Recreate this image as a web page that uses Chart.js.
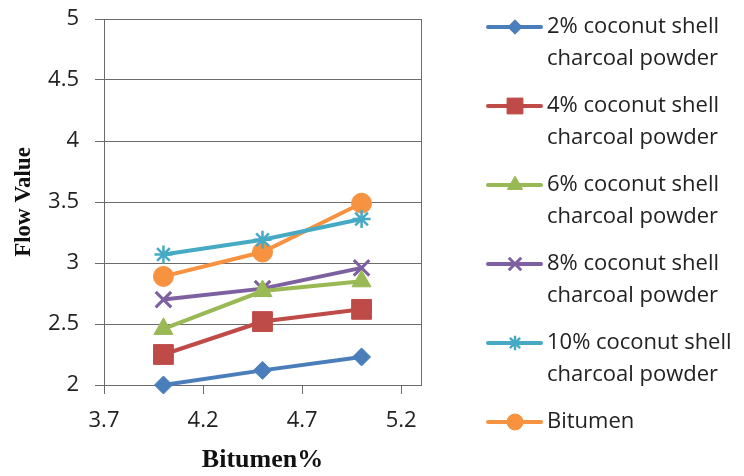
<!DOCTYPE html>
<html>
<head>
<meta charset="utf-8">
<style>
  html, body { margin: 0; padding: 0; background: #fff; }
  #wrap { width: 744px; height: 476px; }
</style>
<script src="https://cdn.jsdelivr.net/npm/chart.js"></script>
</head>
<body>
<div id="wrap"><canvas id="flowChart" width="744" height="476"></canvas></div>
<script>
// datos
const bitumenPct = [4, 4.5, 5];
const xTickValues = [3.7, 4.2, 4.7, 5.2];
const yTickValues = [2, 2.5, 3, 3.5, 4, 4.5, 5];

const shell2 = [2.0, 2.12, 2.23];
const shell4 = [2.25, 2.52, 2.62];
const shell6 = [2.46, 2.77, 2.85];
const shell8 = [2.70, 2.79, 2.96];
const shell10 = [3.07, 3.19, 3.36];
const bitumenOnly = [2.89, 3.09, 3.49];

const seriesNames = [
    ['2% coconut shell', 'charcoal powder'],
    ['4% coconut shell', 'charcoal powder'],
    ['6% coconut shell', 'charcoal powder'],
    ['8% coconut shell', 'charcoal powder'],
    ['10% coconut shell', 'charcoal powder'],
    ['Bitumen']
];

function toPoints(values) {
    return values.map((v, i) => ({ x: bitumenPct[i], y: v }));
}

function makeDataset(name, values, color, style, radius, bw) {
    return {
        label: name.join(' '),
        legendLines: name,
        data: toPoints(values),
        borderColor: color,
        backgroundColor: color,
        pointBackgroundColor: color,
        pointBorderColor: color,
        pointStyle: style,
        pointRadius: radius,
        pointBorderWidth: bw,
        borderWidth: 4,
        tension: 0,
        clip: false
    };
}

const datasets = [
    makeDataset(seriesNames[0], shell2, '#4A7EBB', 'rectRot', 9, 1),
    makeDataset(seriesNames[1], shell4, '#BE4B48', 'rect', 14, 1),
    makeDataset(seriesNames[2], shell6, '#98B954', 'triangle', 11, 1),
    makeDataset(seriesNames[3], shell8, '#7D60A0', 'crossRot', 11, 3),
    makeDataset(seriesNames[4], shell10, '#46AAC5', 'star', 9, 2.5),
    makeDataset(seriesNames[5], bitumenOnly, '#F69240', 'circle', 10, 1)
];

// leyenda dibujada a mano a la derecha (linea + marcador + texto en dos lineas)
const sideLegend = {
    id: 'sideLegend',
    afterDraw(chart) {
        const ctx = chart.ctx;
        ctx.save();
        chart.data.datasets.forEach((ds, i) => {
            const y = 27 + i * 79;
            ctx.strokeStyle = ds.borderColor;
            ctx.fillStyle = ds.borderColor;
            ctx.lineWidth = 4;
            ctx.lineCap = 'round';
            ctx.beginPath();
            ctx.moveTo(488, y);
            ctx.lineTo(541, y);
            ctx.stroke();
            ctx.lineWidth = ds.pointBorderWidth;
            ctx.lineCap = 'butt';
            Chart.helpers.drawPoint(ctx, {
                pointStyle: ds.pointStyle,
                radius: ds.pointRadius * 0.8,
                borderWidth: ds.pointBorderWidth,
                rotation: 0
            }, 515, y);
            ctx.fillStyle = '#222';
            ctx.font = '22px "Open Sans"';
            ctx.textBaseline = 'middle';
            ctx.textAlign = 'left';
            ds.legendLines.forEach((txt, j) => {
                ctx.fillText(txt, 547, y + j * 32);
            });
        });
        ctx.restore();
    }
};

const ctx = document.getElementById('flowChart').getContext('2d');
const chart = new Chart(ctx, {
    type: 'line',
    data: { datasets: datasets },
    plugins: [sideLegend],
    options: {
        responsive: false,
        animation: false,
        layout: { padding: { left: 10, right: 323, top: 19, bottom: 0 } },
        plugins: {
            legend: { display: false },
            tooltip: { enabled: false }
        },
        scales: {
            x: {
                type: 'linear',
                min: 3.7,
                max: 5.3,
                afterBuildTicks: (scale) => { scale.ticks = xTickValues.map(v => ({ value: v })); },
                afterFit: (scale) => { scale.height = 91; },
                ticks: {
                    color: '#222',
                    font: { family: 'Open Sans', size: 22 },
                    padding: 14,
                    maxRotation: 0,
                    autoSkip: false,
                    callback: (v) => String(Math.round(v * 10) / 10)
                },
                grid: { drawOnChartArea: false, drawTicks: true, tickLength: 9, color: '#6b6b6b' },
                border: { display: true, color: '#6b6b6b', width: 1 },
                title: {
                    display: true,
                    text: 'Bitumen%',
                    color: '#111',
                    font: { family: 'Liberation Serif', size: 26, weight: 'bold' },
                    padding: { top: 0, bottom: 0 }
                }
            },
            y: {
                min: 2,
                max: 5,
                afterBuildTicks: (scale) => { scale.ticks = yTickValues.map(v => ({ value: v })); },
                afterFit: (scale) => {
                    scale.width = 94;
                    scale.paddingTop = 0;
                    scale.paddingBottom = 0;
                },
                ticks: {
                    color: '#222',
                    font: { family: 'Open Sans', size: 22 },
                    padding: 16,
                    callback: (v) => String(v)
                },
                grid: { color: '#6b6b6b', tickLength: 9, lineWidth: 1 },
                border: { display: true, color: '#6b6b6b', width: 1 },
                title: {
                    display: true,
                    text: 'Flow Value',
                    color: '#111',
                    font: { family: 'Liberation Serif', size: 23, weight: 'bold' },
                    padding: { top: 0, bottom: 0 }
                }
            },
            yRight: {
                position: 'right',
                min: 2,
                max: 5,
                afterFit: (scale) => {
                    scale.width = 0;
                    scale.paddingTop = 0;
                    scale.paddingBottom = 0;
                },
                ticks: { display: false },
                grid: { display: false },
                border: { display: true, color: '#6b6b6b', width: 1 }
            }
        }
    }
});
</script>
</body>
</html>
